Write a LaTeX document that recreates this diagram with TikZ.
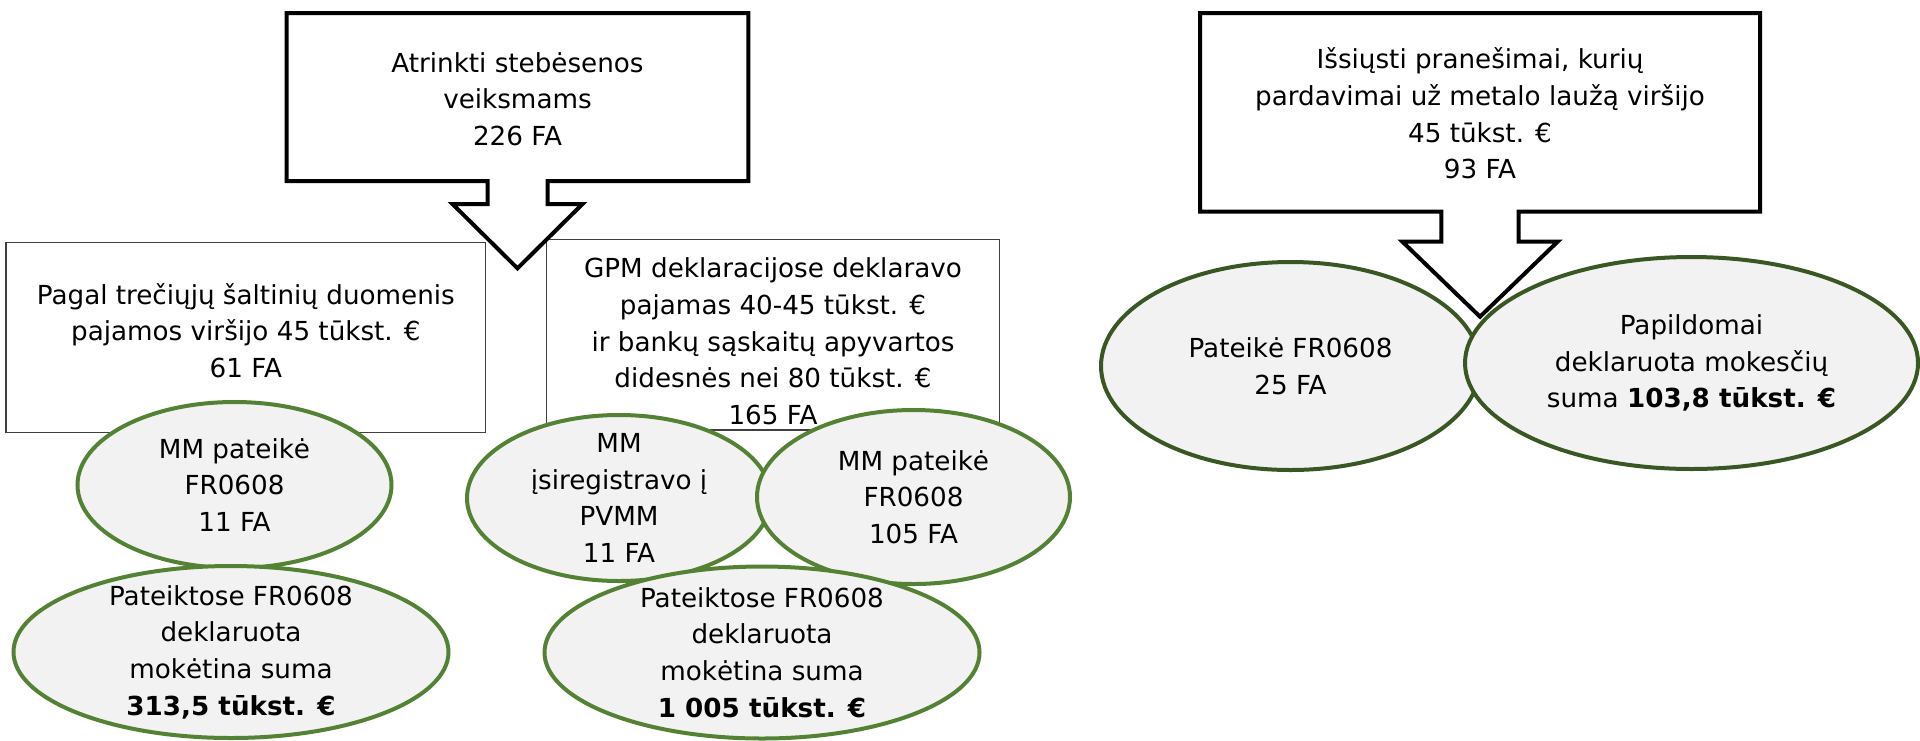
\documentclass[tikz,border=0pt]{standalone}
\usepackage{fontspec}
\setmainfont{DejaVu Sans}
\usetikzlibrary{shapes.geometric}
\definecolor{bubgreen}{HTML}{548235}
\definecolor{bubdark}{HTML}{385723}
\definecolor{bubfill}{HTML}{F2F2F2}
\begin{document}
\begin{tikzpicture}[x=0.5pt,y=-0.5pt,
  every node/.style={font=\fontsize{13.1}{18.35}\selectfont,align=center},
  infobox/.style={draw=black!75,line width=0.75pt,fill=white,inner sep=0pt},
  callbox/.style={draw=black,line width=2pt,fill=white},
  bubble/.style={ellipse,draw=bubgreen,line width=2pt,fill=bubfill,inner sep=-10pt}]
  \useasboundingbox (0,0) rectangle (1920,740);
  \node[infobox,minimum width=239.85pt,minimum height=95pt] (third) at (245.85,337.3)
    {Pagal trečiųjų šaltinių duomenis\\pajamos viršijo 45 tūkst. €\\61 FA\rule[-7pt]{0pt}{0pt}};
  \node[infobox,minimum width=226.3pt,minimum height=95.35pt] (gpm) at (773,334.7)
    {\rule{0pt}{16.5pt}GPM deklaracijose deklaravo\\pajamas 40-45 tūkst. €\\ir bankų sąskaitų apyvartos\\didesnės nei 80 tūkst. €\\165 FA};
  \foreach \xl/\xr/\yb/\sw/\hw/\ys/\yt in {286.7/748.3/181/30/65/204/268.3,1200/1760/211.7/38.7/77.6/241.7/316.7}{
    \pgfmathsetmacro{\xm}{(\xl+\xr)/2}
    \draw[callbox] (\xl,\yb)--(\xl,13)--(\xr,13)--(\xr,\yb)--({\xm+\sw},\yb)--({\xm+\sw},\ys)--({\xm+\hw},\ys)
      --(\xm,\yt)--({\xm-\hw},\ys)--({\xm-\sw},\ys)--({\xm-\sw},\yb)--cycle;
  }
  \node (sel) at (517.5,99) {Atrinkti stebėsenos\\veiksmams\\226 FA};
  \node (notice) at (1480,113.5) {Išsiųsti pranešimai, kurių\\pardavimai už metalo laužą viršijo\\45 tūkst. €\\93 FA};
  \node[bubble,minimum width=157pt,minimum height=83pt] (mmA) at (234.5,485) {MM pateikė\\FR0608\\11 FA};
  \node[bubble,minimum width=217.5pt,minimum height=86pt] (sumA) at (231,652)
    {Pateiktose FR0608\\deklaruota\\mokėtina suma\\\textbf{313,5 tūkst. €}};
  \node[bubble,minimum width=152pt,minimum height=83pt] (regB) at (619,498) {MM\\įsiregistravo į\\PVMM\\11 FA};
  \node[bubble,minimum width=156.5pt,minimum height=87pt] (mmB) at (913.5,497) {MM pateikė\\FR0608\\105 FA};
  \node[bubble,minimum width=217.5pt,minimum height=86pt] (sumB) at (762,652.5)
    {Pateiktose FR0608\\deklaruota\\mokėtina suma\\\textbf{1 005 tūkst. €}};
  \node[bubble,draw=bubdark,minimum width=189.5pt,minimum height=104pt] (subC) at (1290.5,366) {Pateikė FR0608\\25 FA};
  \node[bubble,draw=bubdark,minimum width=226.5pt,minimum height=106pt] (taxC) at (1691.5,363)
    {Papildomai\\deklaruota mokesčių\\suma \textbf{103,8 tūkst. €}};
\end{tikzpicture}
\end{document}
